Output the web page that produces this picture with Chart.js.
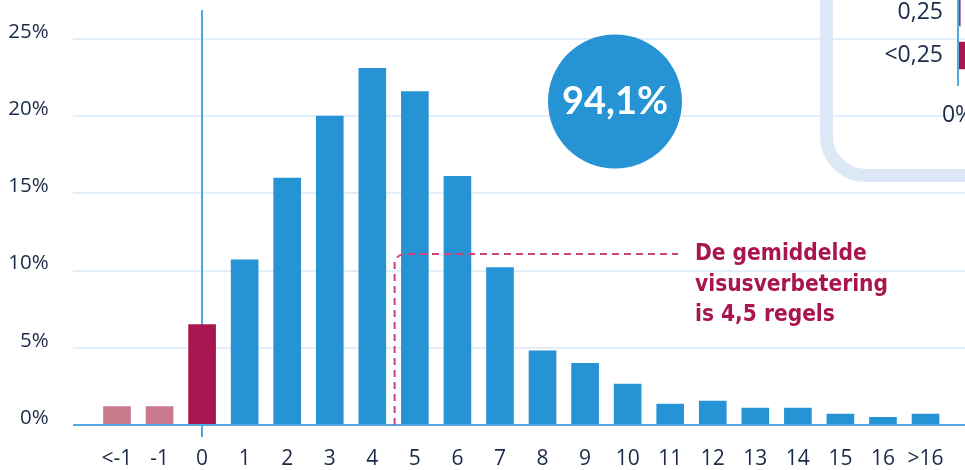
<!DOCTYPE html>
<html>
<head>
<meta charset="utf-8">
<script src="https://cdn.jsdelivr.net/npm/chart.js@4.4.1/dist/chart.umd.min.js"></script>
<style>
  html, body { margin: 0; padding: 0; background: #fff; }
  body { width: 965px; height: 470px; overflow: hidden; position: relative; }
  #main { position: absolute; left: 0; top: 0; }
  .frame { position: absolute; left: 820px; top: -80px; width: 300px; height: 236px;
    border: 13px solid #dce8f5; border-radius: 46px; }
  #inset { position: absolute; left: 833px; top: -40px; }
</style>
</head>
<body>
<canvas id="main" width="965" height="470"></canvas>
<div class="frame"></div>
<canvas id="inset" width="400" height="175"></canvas>
<script>
// verdeling visusverbetering (regels) — percentage patiënten
var LABELS = ['<-1', '-1', '0', '1', '2', '3', '4', '5', '6', '7', '8', '9', '10', '11', '12', '13', '14', '15', '16', '>16'];
var VALUES = [1.2, 1.2, 6.5, 10.7, 16.0, 20.0, 23.1, 21.6, 16.1, 10.2, 4.8, 4.0, 2.65, 1.35, 1.55, 1.1, 1.1, 0.7, 0.5, 0.7];
var Y_TICKS = [0, 5, 10, 15, 20, 25];
var MEAN_GAIN = 4.5;           // gemiddelde visusverbetering
var SHARE = '94,1%';
var NOTE = ['De gemiddelde', 'visusverbetering', 'is 4,5 regels'];

// inzet rechtsboven (grotendeels buiten beeld)
var INSET_LABELS = ['0,25', '<0,25'];
var INSET_VALUES = [0.1, 6];

var BLUE = '#2694d4', CRIMSON = '#a9164f', PINK = '#c8798b', PURPLE = '#7a3a78';
var TXT = '#1c2a49', GRID = '#e3eef8', AXIS = '#55abe0', NOTE_C = '#a9164f';
var FONT = '"Open Sans", sans-serif';

function barColor(l) { return (l === '<-1' || l === '-1') ? PINK : (l === '0' ? CRIMSON : BLUE); }
// de tick-padding telt chart.js ook boven/onder mee; dat willen we niet
function noPad(s) { s.paddingTop = 0; s.paddingBottom = 0; }

var decor = {
  id: 'decor',
  beforeDatasetsDraw: function (c) {
    var ctx = c.ctx, y = c.scales.y, x = c.scales.x;
    ctx.save();
    ctx.strokeStyle = GRID; ctx.lineWidth = 2;
    Y_TICKS.forEach(function (t) {
      if (!t) return;
      var py = Math.round(y.getPixelForValue(t));
      ctx.beginPath(); ctx.moveTo(73, py); ctx.lineTo(965, py); ctx.stroke();
    });
    // verticale lijn bij 0
    var x0 = Math.round(x.getPixelForValue(2));
    ctx.strokeStyle = '#4da7dd';
    ctx.beginPath(); ctx.moveTo(x0, 10); ctx.lineTo(x0, 437); ctx.stroke();
    ctx.restore();
  },
  afterDatasetsDraw: function (c) {
    var ctx = c.ctx, y = c.scales.y, x = c.scales.x;
    ctx.save();
    var y0 = Math.round(y.getPixelForValue(0));
    ctx.strokeStyle = AXIS; ctx.lineWidth = 2;
    ctx.beginPath(); ctx.moveTo(73, y0); ctx.lineTo(965, y0); ctx.stroke();

    // gestippelde lijn naar de toelichting
    var xm = x.getPixelForValue(2 + MEAN_GAIN) + 1, yt = 254, r = 10;
    ctx.strokeStyle = '#c9457c'; ctx.lineWidth = 2; ctx.setLineDash([7, 5]);
    ctx.beginPath();
    ctx.moveTo(xm, y0);
    ctx.lineTo(xm, yt + r);
    ctx.arcTo(xm, yt, xm + r, yt, r);
    ctx.lineTo(678, yt);
    ctx.stroke();
    ctx.setLineDash([]);

    ctx.fillStyle = NOTE_C;
    ctx.font = 'bold 22.5px "DejaVu Sans Condensed", "DejaVu Sans", sans-serif';
    ctx.textAlign = 'left'; ctx.textBaseline = 'alphabetic';
    NOTE.forEach(function (s, i) { ctx.fillText(s, 695, 260 + i * 30.5); });

    // cirkel
    ctx.fillStyle = BLUE;
    ctx.beginPath(); ctx.arc(615, 101.5, 67, 0, Math.PI * 2); ctx.fill();
    ctx.fillStyle = '#fff';
    ctx.font = 'bold 38px Lato, sans-serif';
    ctx.textAlign = 'center';
    ctx.fillText(SHARE, 615, 114);
    ctx.restore();
  }
};

new Chart(document.getElementById('main'), {
  type: 'bar',
  data: {
    labels: LABELS,
    datasets: [{ data: VALUES, backgroundColor: LABELS.map(barColor), barThickness: 27, borderWidth: 0 }]
  },
  options: {
    responsive: false, animation: false,
    layout: { padding: { top: 39, right: 18, left: 0, bottom: 0 } },
    plugins: { legend: { display: false }, tooltip: { enabled: false } },
    scales: {
      x: {
        grid: { display: false, drawTicks: false }, border: { display: false },
        ticks: { color: TXT, font: { family: FONT, size: 21 }, padding: 21, maxRotation: 0, autoSkip: false },
        afterFit: function (s) { s.height = 45; }
      },
      y: {
        min: 0, max: 25,
        grid: { display: false, drawTicks: false }, border: { display: false },
        afterBuildTicks: function (s) { s.ticks = Y_TICKS.map(function (v) { return { value: v }; }); },
        ticks: { color: TXT, font: { family: FONT, size: 20.5 }, padding: 47, labelOffset: -7,
          callback: function (v) { return v + '%'; } },
        afterFit: function (s) { s.width = 95.7; noPad(s); }
      }
    }
  },
  plugins: [decor]
});

var insetAxis = {
  id: 'insetAxis',
  afterDatasetsDraw: function (c) {
    var ctx = c.ctx, a = c.chartArea;
    ctx.save();
    ctx.strokeStyle = AXIS; ctx.lineWidth = 2;
    ctx.beginPath(); ctx.moveTo(Math.round(a.left), 0); ctx.lineTo(Math.round(a.left), a.bottom + 9); ctx.stroke();
    ctx.restore();
  }
};

new Chart(document.getElementById('inset'), {
  type: 'bar',
  data: {
    labels: INSET_LABELS,
    datasets: [{ data: INSET_VALUES, backgroundColor: [PURPLE, CRIMSON], barThickness: 27, borderWidth: 0 }]
  },
  options: {
    indexAxis: 'y', responsive: false, animation: false,
    layout: { padding: { top: 31, right: 10, left: 0, bottom: 0 } },
    plugins: { legend: { display: false }, tooltip: { enabled: false } },
    scales: {
      x: {
        min: 0, max: 10,
        grid: { display: false, drawTicks: false }, border: { display: false },
        ticks: { color: TXT, font: { family: FONT, size: 23 }, padding: 25, stepSize: 5,
          callback: function (v) { return v + '%'; } },
        afterFit: function (s) { s.height = 58; }
      },
      y: {
        grid: { display: false, drawTicks: false }, border: { display: false },
        ticks: { color: TXT, font: { family: FONT, size: 23 }, padding: 15 },
        afterFit: function (s) { s.width = 125; noPad(s); }
      }
    }
  },
  plugins: [insetAxis]
});
</script>
</body>
</html>
